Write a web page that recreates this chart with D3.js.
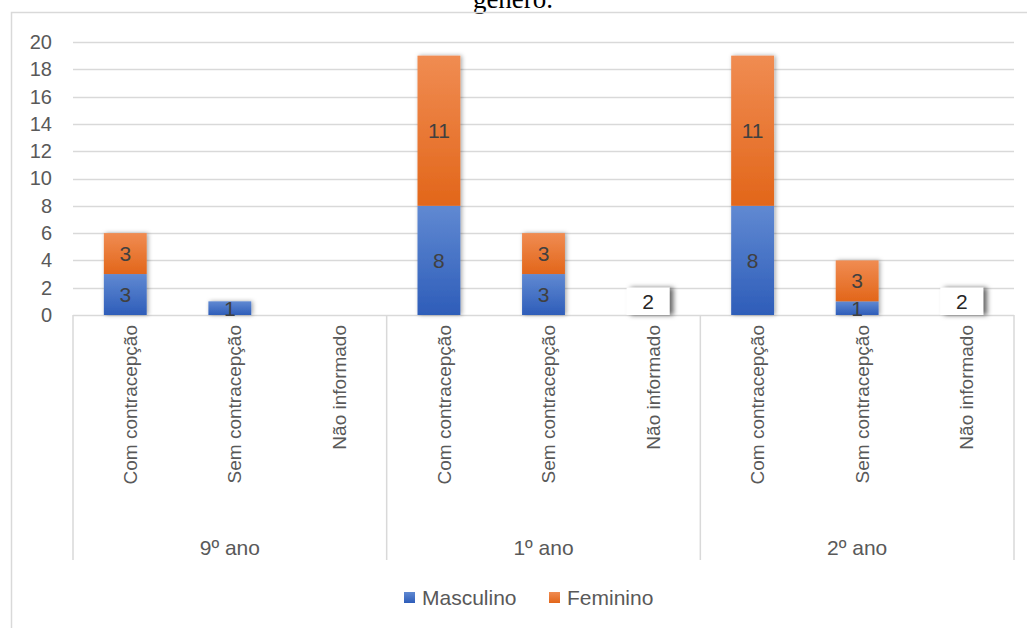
<!DOCTYPE html>
<html><head><meta charset="utf-8">
<script src="https://cdn.jsdelivr.net/npm/d3@7"></script>
<style>body{margin:0;background:#fff}svg{display:block}</style>
</head><body>
<svg id="c" width="1027" height="628"></svg>
<script>
const groups = ["9º ano", "1º ano", "2º ano"];
const categories = ["Com contracepção", "Sem contracepção", "Não informado"];
const masculino = [3, 1, 0, 8, 3, 0, 8, 1, 0];
const feminino  = [3, 0, 0, 11, 3, 0, 11, 3, 0];
const naoInformado = [0, 0, 0, 0, 0, 2, 0, 0, 2];
const yTicks = [0, 2, 4, 6, 8, 10, 12, 14, 16, 18, 20];
const seriesNames = ["Masculino", "Feminino"];

const svg = d3.select("#c");
const font = "'Liberation Sans', Arial, sans-serif";
const L = 73, R = 1014, T = 42, B = 315;

const keys = [];
groups.forEach((g, gi) => categories.forEach((c, ci) => keys.push(gi + "|" + ci)));
const x = d3.scaleBand().domain(keys).range([L, R]).paddingInner(0.59).paddingOuter(0.295);
const y = d3.scaleLinear().domain([0, 20]).range([B, T]);

const defs = svg.append("defs");
function grad(id, top, bot) {
  const g = defs.append("linearGradient").attr("id", id).attr("x1", 0).attr("y1", 0).attr("x2", 0).attr("y2", 1);
  g.append("stop").attr("offset", "0%").attr("stop-color", top);
  g.append("stop").attr("offset", "100%").attr("stop-color", bot);
}
grad("gB", "#6089d2", "#2e5db9");
grad("gO", "#f08c52", "#e2661a");
const f = defs.append("filter").attr("id", "sh").attr("x", "-30%").attr("y", "-30%").attr("width", "160%").attr("height", "160%");
f.append("feDropShadow").attr("dx", 1.5).attr("dy", 0).attr("stdDeviation", 2).attr("flood-color", "#000").attr("flood-opacity", 0.35);
const f2 = defs.append("filter").attr("id", "sh2").attr("x", "-40%").attr("y", "-40%").attr("width", "180%").attr("height", "180%");
f2.append("feDropShadow").attr("dx", 4).attr("dy", 0).attr("stdDeviation", 2.5).attr("flood-color", "#000").attr("flood-opacity", 0.6);

// title (partly cut at the top, as in the source)
svg.append("text").attr("x", 513).attr("y", 8).attr("text-anchor", "middle")
  .attr("font-family", "'Liberation Serif', 'Times New Roman', serif").attr("font-size", 27)
  .attr("fill", "#000").text("gênero.");

// chart frame
svg.append("rect").attr("x", 11.5).attr("y", 12.5).attr("width", 1100).attr("height", 700)
  .attr("fill", "none").attr("stroke", "#d9d9d9").attr("stroke-width", 1.5);

// gridlines
svg.append("g").selectAll("line").data(yTicks.filter(d => d > 0)).join("line")
  .attr("x1", L).attr("x2", R).attr("y1", d => Math.round(y(d)) + 0.5).attr("y2", d => Math.round(y(d)) + 0.5)
  .attr("stroke", "#d9d9d9").attr("stroke-width", 1.3);

// y axis
const yAxis = svg.append("g").attr("transform", `translate(${L - 12},0)`)
  .call(d3.axisLeft(y).tickValues(yTicks).tickSize(0).tickPadding(9));
yAxis.select(".domain").remove();
yAxis.selectAll("text").attr("font-family", font).attr("font-size", 20).attr("fill", "#595959");

// x axis line and group separators
svg.append("line").attr("x1", L).attr("x2", R).attr("y1", B + 0.5).attr("y2", B + 0.5)
  .attr("stroke", "#d9d9d9").attr("stroke-width", 1.3);
const gw = (R - L) / groups.length;
svg.append("g").selectAll("line").data(d3.range(groups.length + 1)).join("line")
  .attr("x1", i => L + i * gw).attr("x2", i => L + i * gw).attr("y1", B).attr("y2", 560)
  .attr("stroke", "#d9d9d9").attr("stroke-width", 1.5);

// bars
const bw = x.bandwidth();
const barsG = svg.append("g");
keys.forEach((k, i) => {
  const m = masculino[i], fe = feminino[i], n = naoInformado[i];
  const cx = x(k);
  if (m > 0 || fe > 0) {
    const g = barsG.append("g").attr("filter", "url(#sh)");
    if (m > 0) g.append("rect").attr("x", cx).attr("width", bw).attr("y", y(m)).attr("height", y(0) - y(m)).attr("fill", "url(#gB)");
    if (fe > 0) g.append("rect").attr("x", cx).attr("width", bw).attr("y", y(m + fe)).attr("height", y(m) - y(m + fe)).attr("fill", "url(#gO)");
  }
  if (n > 0) {
    barsG.append("rect").attr("x", cx).attr("width", bw).attr("y", y(n)).attr("height", y(0) - y(n))
      .attr("fill", "#fff").attr("filter", "url(#sh2)");
  }
});
// data labels
const lab = svg.append("g").attr("font-family", font).attr("font-size", 21).attr("fill", "#404040").attr("text-anchor", "middle");
keys.forEach((k, i) => {
  const m = masculino[i], fe = feminino[i], n = naoInformado[i];
  const cx = x(k) + bw / 2;
  if (m > 0) lab.append("text").attr("x", cx).attr("y", (y(0) + y(m)) / 2).attr("dy", "0.36em").text(m);
  if (fe > 0) lab.append("text").attr("x", cx).attr("y", (y(m) + y(m + fe)) / 2).attr("dy", "0.36em").text(fe);
  if (n > 0) lab.append("text").attr("x", cx).attr("y", (y(0) + y(n)) / 2).attr("dy", "0.36em").attr("fill", "#262626").text(n);
});

// category labels (rotated)
const cl = svg.append("g").attr("font-family", font).attr("font-size", 19).attr("fill", "#595959");
keys.forEach((k, i) => {
  const cx = x(k) + bw / 2 + 5;
  cl.append("text").attr("transform", `translate(${cx},325) rotate(-90)`)
    .attr("text-anchor", "end").attr("dy", "0.35em").text(categories[i % 3]);
});

// group labels
svg.append("g").selectAll("text").data(groups).join("text")
  .attr("x", (d, i) => L + (i + 0.5) * gw).attr("y", 555).attr("text-anchor", "middle")
  .attr("font-family", font).attr("font-size", 21).attr("fill", "#595959").text(d => d);

// legend
const leg = svg.append("g").attr("font-family", font).attr("font-size", 21).attr("fill", "#595959");
const legX = [404, 549];
seriesNames.forEach((s, i) => {
  leg.append("rect").attr("x", legX[i]).attr("y", 592).attr("width", 11).attr("height", 11)
    .attr("fill", i === 0 ? "url(#gB)" : "url(#gO)");
  leg.append("text").attr("x", legX[i] + 18).attr("y", 605).text(s);
});
</script>
</body></html>
